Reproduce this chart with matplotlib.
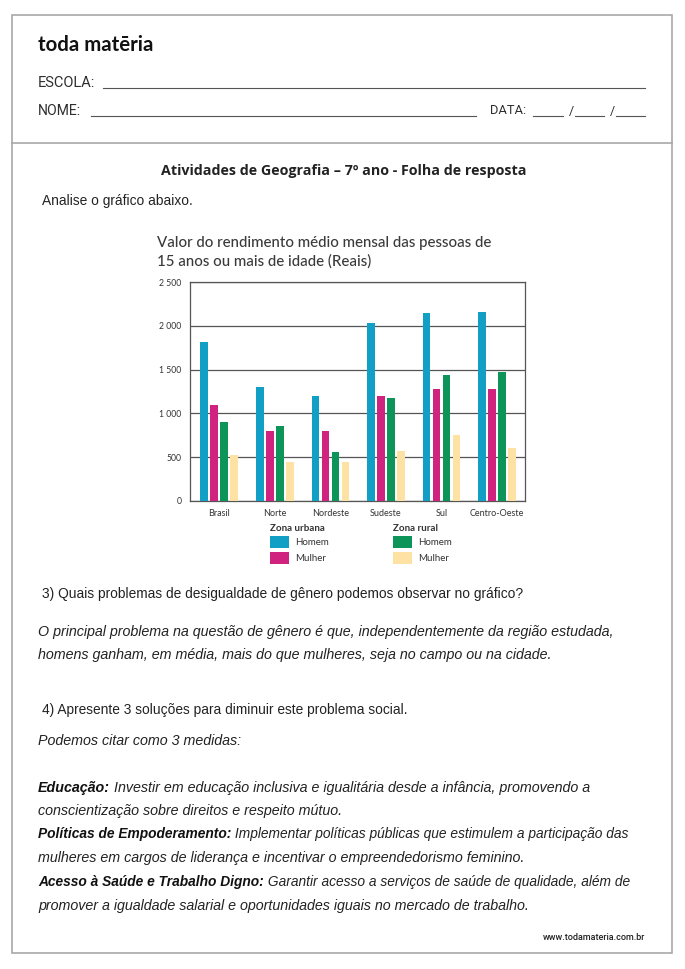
import matplotlib
matplotlib.use("Agg")
import matplotlib.pyplot as plt
from matplotlib.lines import Line2D
from matplotlib.patches import Rectangle, Patch
import numpy as np

# ---------------- data ----------------
categories = ["Brasil", "Norte", "Nordeste", "Sudeste", "Sul", "Centro-Oeste"]
urbana_homem = [1815, 1305, 1200, 2035, 2146, 2154]
urbana_mulher = [1096, 803, 796, 1199, 1282, 1282]
rural_homem = [902, 853, 556, 1172, 1435, 1473]
rural_mulher = [525, 445, 450, 567, 753, 602]
yticks = [0, 500, 1000, 1500, 2000, 2500]
ytick_labels = ["0", "500", "1 000", "1 500", "2 000", "2 500"]
series_labels = ["Homem", "Mulher"]
group_titles = ["Zona urbana", "Zona rural"]

chart_title = "Valor do rendimento médio mensal das pessoas de\n15 anos ou mais de idade (Reais)"

C_UH, C_UM, C_RH, C_RM = "#129fc6", "#d0237f", "#0d9459", "#fde2a4"

W, H = 685, 969
fig = plt.figure(figsize=(W / 100, H / 100), dpi=100)
renderer = fig.canvas.get_renderer()


def fx(px):
    return px / W


def fy(py):
    return 1 - py / H


def width_of(t):
    return t.get_window_extent(renderer).width


def ftext(px, py, s, target=None, **kw):
    kw.setdefault("va", "center")
    t = fig.text(fx(px), fy(py), s, **kw)
    if target is not None:
        t.set_fontsize(t.get_fontsize() * target / width_of(t))
    return t


def hline(x0, x1, y, color="#555555", lw=0.8):
    fig.add_artist(Line2D([fx(x0), fx(x1)], [fy(y), fy(y)], color=color,
                          lw=lw, transform=fig.transFigure))


# ---------------- page frame ----------------
fig.add_artist(Rectangle((fx(12), fy(953)), fx(672) - fx(12), fy(15) - fy(953),
                         transform=fig.transFigure, fill=False,
                         edgecolor="#a8a8a8", lw=1.2))
hline(12, 672, 143, color="#a8a8a8", lw=1.2)

# header
ftext(38, 45, "toda matēria", target=116, family="Lato", weight="bold",
      color="#111111", fontsize=14)
ftext(38, 83, "ESCOLA:", target=57, family="Roboto", color="#2e2e2e", fontsize=9)
hline(103, 645, 88)
ftext(38, 111, "NOME:", target=43, family="Roboto", color="#2e2e2e", fontsize=9)
hline(91, 476, 116)
ftext(490, 111, "DATA:", target=36, family="Roboto", color="#2e2e2e", fontsize=9)
hline(533, 563, 116)
ftext(569, 111, "/", family="Roboto", color="#2e2e2e", fontsize=9)
hline(575, 604, 116)
ftext(610, 111, "/", family="Roboto", color="#2e2e2e", fontsize=9)
hline(616, 645, 116)

ftext(161, 171, "Atividades de Geografia – 7º ano - Folha de resposta", target=367,
      family="Open Sans", weight="bold", color="#222222", fontsize=10)
ftext(42, 201, "Analise o gráfico abaixo.", target=150,
      family="Liberation Sans", color="#222222", fontsize=10)

# ---------------- chart ----------------
t1 = ftext(157, 252.5, chart_title, family="Lato", weight="medium", color="#3a3a3a",
           fontsize=11, linespacing=1.35)
t1.set_fontsize(t1.get_fontsize() * 334 / width_of(t1))

ax = fig.add_axes([fx(190), fy(501), 335 / W, 219 / H])
x = np.arange(len(categories))
step, bw = 0.18, 0.138
for i, (vals, col) in enumerate(zip([urbana_homem, urbana_mulher, rural_homem, rural_mulher],
                                    [C_UH, C_UM, C_RH, C_RM])):
    ax.bar(x + (i - 1.5) * step, vals, width=bw, color=col, zorder=3)
ax.set_xlim(-0.525, 5.50)
ax.set_ylim(0, 2500)
ax.set_yticks(yticks, ytick_labels)
ax.set_xticks(x, categories)
ax.tick_params(axis="y", length=0, pad=6, labelsize=6.2, labelcolor="#333333")
ax.tick_params(axis="x", length=0, pad=6, labelsize=6.5, labelcolor="#333333")
for lab in ax.get_xticklabels() + ax.get_yticklabels():
    lab.set_family("Lato")
ax.yaxis.grid(True, color="#555555", lw=0.9, zorder=1)
ax.set_axisbelow(True)
for s in ax.spines.values():
    s.set_color("#555555")
    s.set_linewidth(0.9)

for title, cols, xpx in [(group_titles[0], [C_UH, C_UM], 270),
                         (group_titles[1], [C_RH, C_RM], 393)]:
    leg = fig.legend(handles=[Patch(facecolor=c) for c in cols], labels=series_labels,
                     title=title, bbox_to_anchor=(fx(xpx), fy(524)),
                     loc="upper left", frameon=False, alignment="left",
                     handlelength=2.0, handleheight=1.55, handletextpad=0.6,
                     labelspacing=0.4, borderpad=0, borderaxespad=0,
                     prop={"family": "Lato", "size": 7},
                     title_fontproperties={"family": "Lato", "weight": "bold", "size": 7})
    leg._legend_box.sep = 2
    for txt in leg.get_texts():
        txt.set_color("#333333")
    leg.get_title().set_color("#333333")

# ---------------- questions & answers ----------------
ftext(42, 594, "3) Quais problemas de desigualdade de gênero podemos observar no gráfico?",
      target=480, family="Liberation Sans", color="#222222", fontsize=10)

a1 = ftext(38, 632, "O principal problema na questão de gênero é que, independentemente da região estudada,",
           target=579, family="Liberation Sans", style="italic", color="#222222", fontsize=10)
fs_ans = a1.get_fontsize()
ftext(38, 655, "homens ganham, em média, mais do que mulheres, seja no campo ou na cidade.",
      family="Liberation Sans", style="italic", color="#222222", fontsize=fs_ans)

ftext(42, 710, "4) Apresente 3 soluções para diminuir este problema social.",
      target=366, family="Liberation Sans", color="#222222", fontsize=10)
ftext(38, 741, "Podemos citar como 3 medidas:", family="Liberation Sans",
      style="italic", color="#222222", fontsize=fs_ans)

bg = fig.add_axes([0, 0, 1, 1], zorder=-1)
bg.axis("off")


def mixed(py, bold, rest, target):
    tb = fig.text(fx(38), fy(py), bold, family="Liberation Sans", style="italic",
                  weight="bold", color="#111111", fontsize=fs_ans, va="center")
    tr = bg.annotate(" " + rest, xy=(1, 0.5), xycoords=tb, va="center", ha="left",
                     family="Liberation Sans", style="italic", color="#222222",
                     fontsize=fs_ans)
    total = width_of(tb) + width_of(tr)
    k = min(1.0, max(target / total, 0.965))
    tb.set_fontsize(fs_ans * k)
    tr.set_fontsize(fs_ans * k)


mixed(788, "Educação:", "Investir em educação inclusiva e igualitária desde a infância, promovendo a", 555)
ftext(38, 811, "conscientização sobre direitos e respeito mútuo.", family="Liberation Sans",
      style="italic", color="#222222", fontsize=fs_ans)
mixed(834, "Políticas de Empoderamento:",
      "Implementar políticas públicas que estimulem a participação das", 589)
ftext(38, 858, "mulheres em cargos de liderança e incentivar o empreendedorismo feminino.",
      family="Liberation Sans", style="italic", color="#222222", fontsize=fs_ans)
mixed(882, "Acesso à Saúde e Trabalho Digno:",
      "Garantir acesso a serviços de saúde de qualidade, além de", 572)
ftext(38, 906, "promover a igualdade salarial e oportunidades iguais no mercado de trabalho.",
      family="Liberation Sans", style="italic", color="#222222", fontsize=fs_ans)

ftext(645, 938, "www.todamateria.com.br", ha="right", family="Roboto", weight="medium",
      color="#222222", fontsize=6.5)

fig.savefig("out.png", dpi=100)
